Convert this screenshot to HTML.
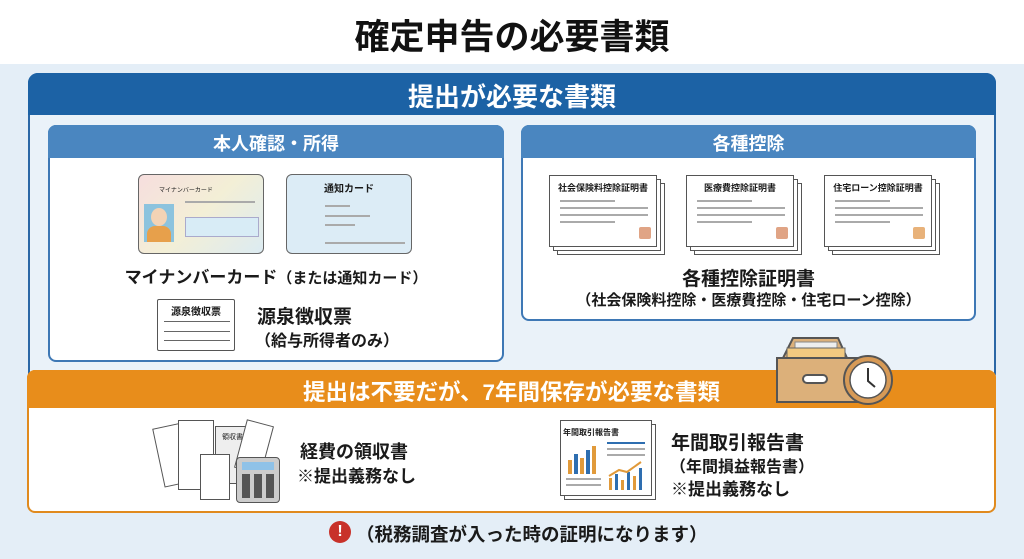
<!DOCTYPE html>
<html><head><meta charset="utf-8"><style>
*{margin:0;padding:0;box-sizing:border-box}
body{width:1024px;height:559px;background:#e4eef7;font-family:"Liberation Sans","Noto Sans CJK JP",sans-serif;position:relative;overflow:hidden;color:#1a1a1a}
.a{position:absolute}
.t{font-weight:bold;white-space:nowrap}
.doc{position:absolute;background:#fff;border:1.5px solid #555}
.ln{position:absolute;height:2px;background:#aaa}
</style></head><body>
<div class="a" style="left:0;top:0;width:1024px;height:64px;background:#fff"></div>
<div class="a t" style="left:0;width:1024px;top:9px;text-align:center;font-size:35px;color:#111">確定申告の必要書類</div>

<!-- blue frame -->
<div class="a" style="left:28px;top:73px;width:968px;height:310px;border:2px solid #2b67a6;border-radius:10px;background:#eaf2f9"></div>
<div class="a" style="left:28px;top:73px;width:968px;height:42px;background:#1c62a5;border-radius:10px 10px 0 0"></div>
<div class="a t" style="left:28px;width:968px;top:77px;text-align:center;font-size:26px;color:#fff">提出が必要な書類</div>

<!-- left box -->
<div class="a" style="left:48px;top:125px;width:456px;height:237px;background:#fff;border:2px solid #3e78b5;border-radius:8px"></div>
<div class="a" style="left:48px;top:125px;width:456px;height:33px;background:#4a86c0;border-radius:8px 8px 0 0"></div>
<div class="a t" style="left:48px;width:456px;top:130px;text-align:center;font-size:18px;color:#fff">本人確認・所得</div>
<!-- my number card -->
<div class="a" style="left:138px;top:174px;width:126px;height:80px;border:1.5px solid #666;border-radius:6px;background:linear-gradient(135deg,#f6dede,#f3efd6 50%,#dcebf2)"></div>
<div class="a" style="left:144px;top:204px;width:30px;height:38px;background:#8cc3de"></div>
<div class="a" style="left:151px;top:208px;width:16px;height:18px;background:#f3d3b5;border-radius:50%"></div>
<div class="a" style="left:147px;top:226px;width:24px;height:16px;background:#e7a04b;border-radius:8px 8px 0 0"></div>
<div class="a" style="left:159px;top:185px;font-size:6px">マイナンバーカード</div>
<div class="a" style="left:185px;top:217px;width:74px;height:20px;border:1px solid #aac;background:#d8ecf6"></div>
<div class="ln" style="left:185px;top:201px;width:70px"></div>
<!-- notification card -->
<div class="a" style="left:286px;top:174px;width:126px;height:80px;border:1.5px solid #666;border-radius:6px;background:#dcecf6"></div>
<div class="a t" style="left:286px;width:126px;top:180px;text-align:center;font-size:10px">通知カード</div>
<div class="ln" style="left:325px;top:205px;width:25px"></div>
<div class="ln" style="left:325px;top:215px;width:45px"></div>
<div class="ln" style="left:325px;top:224px;width:30px"></div>
<div class="ln" style="left:325px;top:242px;width:80px"></div>
<div class="a t" style="left:48px;width:456px;top:263px;text-align:center;font-size:17px">マイナンバーカード<span style="font-size:15px">（または通知カード）</span></div>
<!-- withholding -->
<div class="doc" style="left:157px;top:299px;width:78px;height:52px;border-radius:2px"></div>
<div class="a t" style="left:157px;width:78px;top:303px;text-align:center;font-size:10px">源泉徴収票</div>
<div class="a" style="left:164px;top:321px;width:66px;height:20px;border:1px solid #666;border-left:none;border-right:none"></div>
<div class="a" style="left:164px;top:331px;width:66px;height:1px;background:#666"></div>
<div class="a t" style="left:257px;top:302px;font-size:19px">源泉徴収票</div>
<div class="a t" style="left:255px;top:327px;font-size:16px">（給与所得者のみ）</div>

<!-- right box -->
<div class="a" style="left:521px;top:125px;width:455px;height:196px;background:#fff;border:2px solid #3e78b5;border-radius:8px"></div>
<div class="a" style="left:521px;top:125px;width:455px;height:33px;background:#4a86c0;border-radius:8px 8px 0 0"></div>
<div class="a t" style="left:521px;width:455px;top:130px;text-align:center;font-size:18px;color:#fff">各種控除</div>
<!-- certificate docs -->
<div class="doc" style="left:557px;top:183px;width:108px;height:72px"></div>
<div class="doc" style="left:553px;top:179px;width:108px;height:72px"></div>
<div class="doc" style="left:549px;top:175px;width:108px;height:72px"></div>
<div class="a t" style="left:549px;width:108px;top:181px;text-align:center;font-size:9px">社会保険料控除証明書</div>
<div class="ln" style="left:560px;top:200px;width:55px"></div><div class="ln" style="left:560px;top:207px;width:88px"></div><div class="ln" style="left:560px;top:214px;width:88px"></div><div class="ln" style="left:560px;top:221px;width:55px"></div>
<div class="a" style="left:639px;top:227px;width:12px;height:12px;background:#e0a485;border-radius:2px"></div>

<div class="doc" style="left:694px;top:183px;width:108px;height:72px"></div>
<div class="doc" style="left:690px;top:179px;width:108px;height:72px"></div>
<div class="doc" style="left:686px;top:175px;width:108px;height:72px"></div>
<div class="a t" style="left:686px;width:108px;top:181px;text-align:center;font-size:9px">医療費控除証明書</div>
<div class="ln" style="left:697px;top:200px;width:55px"></div><div class="ln" style="left:697px;top:207px;width:88px"></div><div class="ln" style="left:697px;top:214px;width:88px"></div><div class="ln" style="left:697px;top:221px;width:55px"></div>
<div class="a" style="left:776px;top:227px;width:12px;height:12px;background:#e0a485;border-radius:2px"></div>

<div class="doc" style="left:832px;top:183px;width:108px;height:72px"></div>
<div class="doc" style="left:828px;top:179px;width:108px;height:72px"></div>
<div class="doc" style="left:824px;top:175px;width:108px;height:72px"></div>
<div class="a t" style="left:824px;width:108px;top:181px;text-align:center;font-size:9px">住宅ローン控除証明書</div>
<div class="ln" style="left:835px;top:200px;width:55px"></div><div class="ln" style="left:835px;top:207px;width:88px"></div><div class="ln" style="left:835px;top:214px;width:88px"></div><div class="ln" style="left:835px;top:221px;width:55px"></div>
<div class="a" style="left:913px;top:227px;width:12px;height:12px;background:#e8b27a;border-radius:2px"></div>

<div class="a t" style="left:521px;width:455px;top:264px;text-align:center;font-size:19px">各種控除証明書</div>
<div class="a t" style="left:521px;width:455px;top:289px;text-align:center;font-size:15px">（社会保険料控除・医療費控除・住宅ローン控除）</div>

<!-- orange section -->
<div class="a" style="left:27px;top:370px;width:969px;height:143px;border:2px solid #e08a1e;border-radius:8px;background:#fff"></div>
<div class="a" style="left:27px;top:370px;width:969px;height:38px;background:#e88d1b;border-radius:8px 8px 0 0"></div>
<div class="a t" style="left:27px;width:969px;top:375px;text-align:center;font-size:22.5px;color:#fff">提出は不要だが、7年間保存が必要な書類</div>
<!-- box & clock -->
<svg class="a" style="left:775px;top:330px" width="125" height="75">
<polygon points="18,8 63,8 72,28 8,28" fill="#dcb07a" stroke="#555" stroke-width="2"/>
<rect x="20" y="12" width="42" height="10" fill="#eee" stroke="#888"/>
<rect x="12" y="18" width="58" height="16" fill="#f2c980" stroke="#666"/>
<rect x="2" y="28" width="95" height="44" fill="#dcb07a" stroke="#555" stroke-width="2"/>
<rect x="28" y="45" width="24" height="8" rx="4" fill="#fff" stroke="#555" stroke-width="2"/>
<circle cx="93" cy="50" r="24" fill="#d79a56" stroke="#555" stroke-width="2"/>
<circle cx="93" cy="50" r="18" fill="#fff" stroke="#555" stroke-width="1.5"/>
<path d="M93 38 V51 L100 57" stroke="#333" stroke-width="2" fill="none"/>
</svg>
<!-- receipts -->
<div class="doc" style="left:158px;top:424px;width:40px;height:60px;transform:rotate(-12deg)"></div>
<div class="doc" style="left:178px;top:420px;width:36px;height:70px"></div>
<div class="doc" style="left:215px;top:426px;width:42px;height:58px;background:#eee"></div>
<div class="a" style="left:222px;top:432px;font-size:7px">領収書</div>
<div class="doc" style="left:240px;top:422px;width:28px;height:50px;transform:rotate(15deg)"></div>
<div class="doc" style="left:200px;top:454px;width:30px;height:46px"></div>
<div class="a" style="left:236px;top:457px;width:44px;height:46px;background:#ccc;border:1.5px solid #555;border-radius:4px"></div>
<div class="a" style="left:242px;top:462px;width:32px;height:8px;background:#8fc2e8"></div>
<div class="a" style="left:242px;top:474px;width:32px;height:24px;background:repeating-linear-gradient(90deg,#555 0 8px,transparent 8px 12px)"></div>
<div class="a t" style="left:300px;top:438px;font-size:18px">経費の領収書</div>
<div class="a t" style="left:297px;top:462px;font-size:17px">※提出義務なし</div>
<!-- report -->
<div class="doc" style="left:564px;top:424px;width:92px;height:76px"></div>
<div class="doc" style="left:560px;top:420px;width:92px;height:76px"></div>
<div class="a t" style="left:563px;top:427px;font-size:8px">年間取引報告書</div>
<svg class="a" style="left:565px;top:440px" width="85" height="54">
<rect x="3" y="20" width="4" height="14" fill="#e19a3a"/><rect x="9" y="14" width="4" height="20" fill="#2e6eb0"/><rect x="15" y="18" width="4" height="16" fill="#e19a3a"/><rect x="21" y="10" width="4" height="24" fill="#2e6eb0"/><rect x="27" y="6" width="4" height="28" fill="#e19a3a"/>
<rect x="1" y="38" width="35" height="2" fill="#aaa"/><rect x="1" y="44" width="35" height="2" fill="#aaa"/>
<rect x="42" y="2" width="38" height="2" fill="#2e6eb0"/><rect x="42" y="8" width="38" height="2" fill="#aaa"/><rect x="42" y="14" width="38" height="2" fill="#aaa"/>
<rect x="44" y="38" width="3" height="12" fill="#e19a3a"/><rect x="50" y="34" width="3" height="16" fill="#2e6eb0"/><rect x="56" y="40" width="3" height="10" fill="#e19a3a"/><rect x="62" y="32" width="3" height="18" fill="#2e6eb0"/><rect x="68" y="36" width="3" height="14" fill="#e19a3a"/><rect x="74" y="28" width="3" height="22" fill="#2e6eb0"/>
<polyline points="44,36 54,30 62,32 76,22" stroke="#e19a3a" stroke-width="2" fill="none"/>
</svg>
<div class="a t" style="left:671px;top:428px;font-size:19px">年間取引報告書</div>
<div class="a t" style="left:670px;top:453px;font-size:16px">（年間損益報告書）</div>
<div class="a t" style="left:671px;top:475px;font-size:17px">※提出義務なし</div>

<!-- footer -->
<div class="a" style="left:329px;top:521px;width:22px;height:22px;border-radius:50%;background:#c8312a;color:#fff;font-weight:bold;font-size:16px;text-align:center;line-height:22px">!</div>
<div class="a t" style="left:356px;top:521px;font-size:18.5px">（税務調査が入った時の証明になります）</div>
</body></html>
